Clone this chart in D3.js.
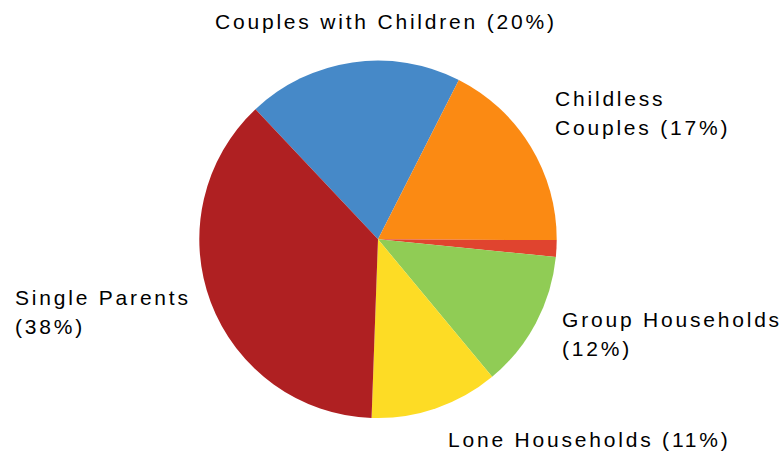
<!DOCTYPE html>
<html>
<head>
<meta charset="utf-8">
<script src="https://cdn.jsdelivr.net/npm/d3@7"></script>
<style>
  html, body { margin: 0; padding: 0; background: #fff; }
  svg { display: block; }
  text { font-family: "Liberation Sans", Arial, sans-serif; font-size: 21px; letter-spacing: 2.8px; fill: #000; }
</style>
</head>
<body>
<svg id="chart" width="784" height="455"></svg>
<script>
// ---- data ----
const categories = ["Couples with Children", "Childless Couples", "Other", "Group Households", "Lone Households", "Single Parents"];
const values = [19.5, 17.6, 1.5, 12.4, 11.6, 37.4];
const labelLines = [
  ["Couples with Children (20%)"],
  ["Childless", "Couples (17%)"],
  [],
  ["Group Households", "(12%)"],
  ["Lone Households (11%)"],
  ["Single Parents", "(38%)"]
];
const colors = ["#4689c8", "#fb8a13", "#e0442f", "#90cc55", "#fddc25", "#af2022"];

// ---- layout ----
const cx = 378, cy = 239.3, radius = 178.7;
const startDeg = -43.3;
const labelAnchor = [
  [215, 29], [555, 106], null, [562, 327], [448, 447], [15, 305]
];
const lineHeight = 28.5;

const svg = d3.select("#chart");
const pie = d3.pie().sort(null).value(d => d)
  .startAngle(startDeg * Math.PI / 180)
  .endAngle((startDeg + 360) * Math.PI / 180);
const arc = d3.arc().innerRadius(0).outerRadius(radius);

const g = svg.append("g").attr("transform", `translate(${cx},${cy})`);
g.selectAll("path")
  .data(pie(values))
  .join("path")
  .attr("d", arc)
  .attr("fill", (d, i) => colors[i]);

const labels = svg.append("g");
categories.forEach((c, i) => {
  const pos = labelAnchor[i];
  if (!pos) return;
  const t = labels.append("text").attr("x", pos[0]).attr("y", pos[1]);
  labelLines[i].forEach((line, j) => {
    t.append("tspan").attr("x", pos[0]).attr("y", pos[1] + j * lineHeight).text(line);
  });
});
</script>
</body>
</html>
